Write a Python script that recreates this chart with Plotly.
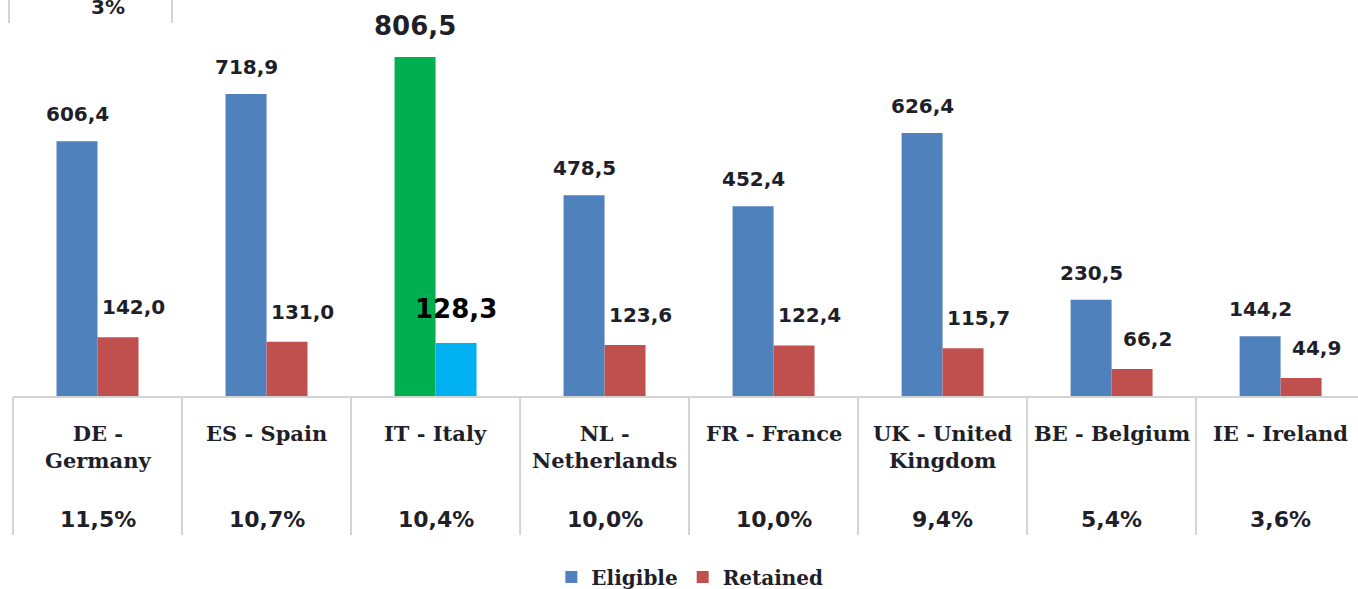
import plotly.graph_objects as go

countries = ["DE -<br>Germany", "ES - Spain", "IT - Italy", "NL -<br>Netherlands",
             "FR - France", "UK - United<br>Kingdom", "BE - Belgium", "IE - Ireland"]
shares = ["11,5%", "10,7%", "10,4%", "10,0%", "10,0%", "9,4%", "5,4%", "3,6%"]
eligible = [606.4, 718.9, 806.5, 478.5, 452.4, 626.4, 230.5, 144.2]
retained = [142.0, 131.0, 128.3, 123.6, 122.4, 115.7, 66.2, 44.9]

blue, red = "#4F81BD", "#C0504D"
green, cyan = "#00B050", "#00B0F0"
hl = 2  # Italy is highlighted

x = list(range(len(countries)))
col_e = [green if i == hl else blue for i in x]
col_r = [cyan if i == hl else red for i in x]

fmt = lambda v: f"{v:.1f}".replace(".", ",")
serif = "DejaVu Serif"
sans = "DejaVu Sans"
ink = "#1f1f2a"
off = 0.1213  # half a bar in category units
ph = 397  # plot height in px

fig = go.Figure()
fig.add_bar(x=x, y=eligible, name="Eligible", marker_color=col_e, marker_line_width=0)
fig.add_bar(x=x, y=retained, name="Retained", marker_color=col_r, marker_line_width=0)

ann = []
for i in x:
    big = i == hl
    ann.append(dict(x=i - off, y=eligible[i], text=f"<b>{fmt(eligible[i])}</b>", showarrow=False,
                    yanchor="bottom", yshift=14 if big else 13,
                    font=dict(family=sans, size=26 if big else 20, color=ink)))
    ann.append(dict(x=i + off, y=retained[i], text=f"<b>{fmt(retained[i])}</b>", showarrow=False,
                    yanchor="bottom", yshift=17 if big else 16, xshift=0 if big else 15,
                    font=dict(family=sans, size=26 if big else 20,
                              color="black" if big else ink)))
    # table under the axis
    ann.append(dict(x=i, y=-0.055, yref="paper", text=f"<b>{countries[i]}</b>", showarrow=False,
                    yanchor="top", font=dict(family=serif, size=21, color=ink)))
    ann.append(dict(x=i, y=-0.345, yref="paper", text=f"<b>{shares[i]}</b>", showarrow=False,
                    yanchor="bottom", font=dict(family=sans, size=22, color=ink)))

# leftover of the table above (cut off)
ann.append(dict(x=89 / 1358, xref="paper", y=1 - 7 / ph, yref="paper", text="<b>3%</b>",
                showarrow=False, yanchor="middle", font=dict(family=sans, size=20, color=ink)))

shapes = [dict(type="line", xref="x", yref="paper", x0=i - 0.5, x1=i - 0.5, y0=0, y1=-138 / ph,
               line=dict(color="#d4d4d4", width=2)) for i in range(len(countries) + 1)]
shapes.append(dict(type="line", xref="x", yref="paper", x0=-0.5, x1=7.6, y0=0, y1=0,
                   line=dict(color="#d4d4d4", width=2)))
for px in (9, 172):
    shapes.append(dict(type="line", xref="paper", yref="paper", x0=px / 1358, x1=px / 1358,
                       y0=1, y1=1 - 23 / ph, line=dict(color="#d4d4d4", width=2)))

fig.update_layout(
    width=1358, height=589,
    margin=dict(l=0, r=0, t=0, b=192, autoexpand=False),
    paper_bgcolor="white", plot_bgcolor="white",
    barmode="group", bargap=0.515, bargroupgap=0,
    annotations=ann, shapes=shapes,
    legend=dict(orientation="h", x=0.508, xanchor="center",
                yref="container", y=1 - 577 / 589, yanchor="middle",
                font=dict(family=serif, size=20, color=ink, weight="bold"),
                itemwidth=30, traceorder="normal"),
)
fig.update_xaxes(range=[-0.577, 7.458], showticklabels=False, showgrid=False,
                 zeroline=False, showline=False)
fig.update_yaxes(range=[0, 941.6], visible=False)

fig.write_html("out.html", config={"displayModeBar": False},
               post_script="document.body.style.margin='0';")
